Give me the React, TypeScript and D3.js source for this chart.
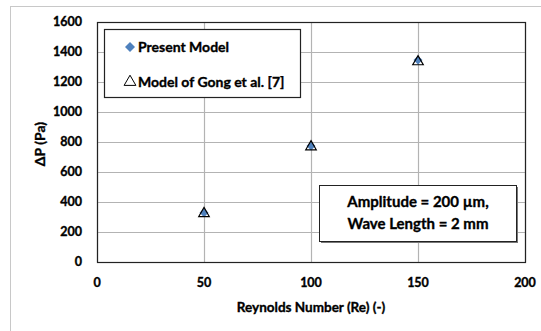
import React from "react";
import * as d3 from "d3";

const reynolds = [50, 100, 150];
const presentModel = [328, 773, 1346];
const gongModel = [330, 775, 1342];
const xTicks = [0, 50, 100, 150, 200];
const yTicks = [0, 200, 400, 600, 800, 1000, 1200, 1400, 1600];
const seriesNames = ["Present Model", "Model of Gong et al. [7]"];
const annotationLines = ["Amplitude = 200 \u00b5m,", "Wave Length = 2 mm"];

const W = 541, H = 331;
const L = 97, R = 525, T = 22, B = 262;
const FONT = "Lato, 'Open Sans', sans-serif";
const BOLD = { fontWeight: "bold" as const, fill: "#000", stroke: "#000", strokeWidth: 0.35 };

export default function App() {
  const x = d3.scaleLinear().domain([0, 200]).range([L, R]);
  const y = d3.scaleLinear().domain([0, 1600]).range([B, T]);
  const diamond = d3.symbol().type(d3.symbolSquare).size(40)();
  const diamondLegend = d3.symbol().type(d3.symbolSquare).size(50)();
  const tri = d3.symbol().type(d3.symbolTriangle).size(48)();
  const triLegend = d3.symbol().type(d3.symbolTriangle).size(60)();

  return (
    <svg width={W} height={H} style={{ position: "absolute", left: 0, top: 0, background: "#fff" }} fontFamily={FONT}>
      <rect x={10.5} y={6.5} width={540} height={340} fill="#fff" stroke="#c8c8c8" strokeWidth={1} />
      {yTicks.map((t) => (
        <line key={"gy" + t} x1={L} x2={R} y1={Math.round(y(t)) + 0.5} y2={Math.round(y(t)) + 0.5} stroke="#b3b3b3" strokeWidth={1.2} />
      ))}
      {xTicks.map((t) => (
        <line key={"gx" + t} y1={T} y2={B} x1={Math.round(x(t)) + 0.5} x2={Math.round(x(t)) + 0.5} stroke="#b3b3b3" strokeWidth={1.2} />
      ))}
      <rect x={L + 0.5} y={T + 0.5} width={R - L} height={B - T} fill="none" stroke="#222" strokeWidth={1.2} />
      {yTicks.map((t) => (
        <text key={"ty" + t} x={82} y={y(t)} dy="0.35em" textAnchor="end" fontSize={12.5} {...BOLD}>{t}</text>
      ))}
      {xTicks.map((t) => (
        <text key={"tx" + t} x={x(t)} y={283} dy="0.35em" textAnchor="middle" fontSize={12.5} {...BOLD}>{t}</text>
      ))}
      <text x={311} y={307} dy="0.35em" textAnchor="middle" fontSize={13.5} {...BOLD}>Reynolds  Number (Re)  (-)</text>
      <text transform={`translate(40,144) rotate(-90)`} dy="0.35em" textAnchor="middle" fontSize={14} {...BOLD}>ΔP (Pa)</text>
      {reynolds.map((r, i) => (
        <path key={"d" + r} d={diamond} transform={`translate(${x(r)},${y(presentModel[i])}) rotate(45)`} fill="#4f81bd" />
      ))}
      {reynolds.map((r, i) => (
        <path key={"t" + r} d={tri} transform={`translate(${x(r)},${y(gongModel[i]) + 1})`} fill="none" stroke="#000" strokeWidth={1.2} />
      ))}
      <rect x={104.5} y={29.5} width={196} height={68} fill="#fff" stroke="#222" strokeWidth={1.2} />
      <path d={diamondLegend} transform="translate(130,47) rotate(45)" fill="#4f81bd" />
      <text x={138} y={47} dy="0.35em" fontSize={14} {...BOLD}>{seriesNames[0]}</text>
      <path d={triLegend} transform="translate(130,82)" fill="none" stroke="#000" strokeWidth={1} />
      <text x={138} y={82} dy="0.35em" fontSize={14} {...BOLD}>{seriesNames[1]}</text>
      <rect x={321} y={187} width={197} height={56} fill="#777" />
      <rect x={319.5} y={185.5} width={197} height={56} fill="#fff" stroke="#222" strokeWidth={1} />
      {annotationLines.map((s, i) => (
        <text key={s} x={418} y={202 + i * 22} dy="0.35em" textAnchor="middle" fontSize={15} {...BOLD}>{s}</text>
      ))}
    </svg>
  );
}
